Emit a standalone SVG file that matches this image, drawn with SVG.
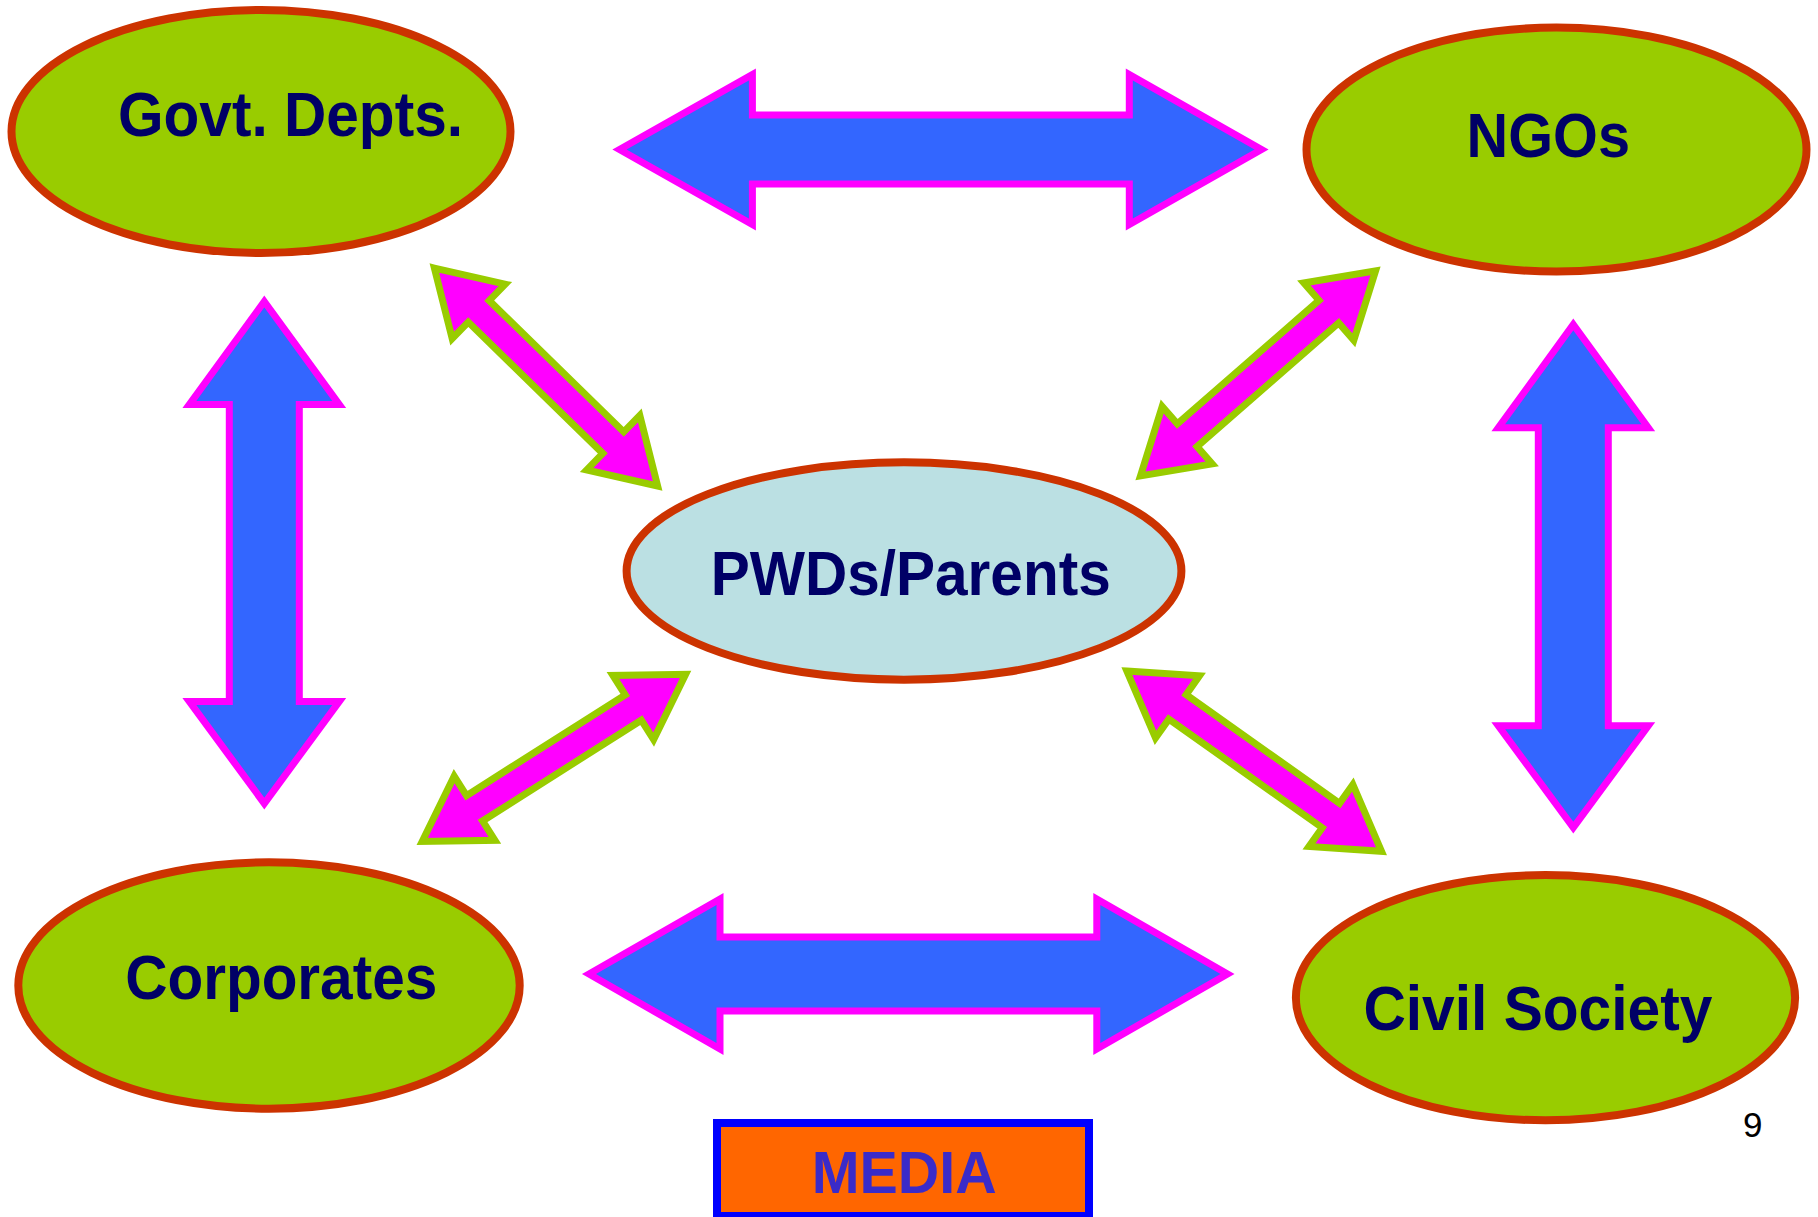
<svg xmlns="http://www.w3.org/2000/svg" xmlns:xlink="http://www.w3.org/1999/xlink" width="1818" height="1217" viewBox="0 0 1818 1217">
<style>
.node{fill:#99CC00;stroke:#CC3300;stroke-width:8}
.center{fill:#BBE0E3;stroke:#CC3300;stroke-width:8}
.lbl{font-family:"Liberation Sans",Arial,sans-serif;font-weight:bold;font-size:63px;fill:#000066}
.big{fill:#3366FF;stroke:#FF00FF;stroke-width:7;stroke-linejoin:miter;stroke-miterlimit:10}
.diag{fill:#FF00FF;stroke:#99CC00;stroke-width:7;stroke-linejoin:miter;stroke-miterlimit:10}
</style>
<defs>
<polygon id="diagArrow" points="-156,0 -94,-38 -94,-15 94,-15 94,-38 156,0 94,38 94,15 -94,15 -94,38"/>
</defs>
<rect width="1818" height="1217" fill="#FFFFFF"/>
<g id="connectors">
<polygon class="big" points="619.5,149.5 752.4,74.5 752.4,115 1129.3,115 1129.3,74.5 1261.5,149.5 1129.3,224.5 1129.3,184 752.4,184 752.4,224.5"/>
<polygon class="big" points="589,974 720,899 720,937 1096.8,937 1096.8,899 1227.5,974 1096.8,1049 1096.8,1011 720,1011 720,1049"/>
<polygon class="big" points="264.3,301.5 339.3,404.6 299.3,404.6 299.3,701.4 339.3,701.4 264.3,803.5 189.3,701.4 229.3,701.4 229.3,404.6 189.3,404.6"/>
<polygon class="big" points="1573.3,324.5 1648.3,427.8 1608.3,427.8 1608.3,725.8 1648.3,725.8 1573.3,827.5 1498.3,725.8 1538.3,725.8 1538.3,427.8 1498.3,427.8"/>
<use xlink:href="#diagArrow" class="diag" transform="translate(546,377) rotate(44.3)"/>
<use xlink:href="#diagArrow" class="diag" transform="translate(1258,373.4) rotate(-41.1)"/>
<use xlink:href="#diagArrow" class="diag" transform="translate(553.9,757.9) rotate(-32.4)"/>
<use xlink:href="#diagArrow" class="diag" transform="translate(1254.2,761.2) rotate(35.3)"/>
</g>
<g id="govt">
<ellipse class="node" cx="261" cy="131.5" rx="249.5" ry="121.5"/>
<text class="lbl" x="118" y="135.6" textLength="345" lengthAdjust="spacingAndGlyphs">Govt. Depts.</text>
</g>
<g id="ngos">
<ellipse class="node" cx="1556.5" cy="149.6" rx="250" ry="122"/>
<text class="lbl" x="1466.6" y="156.5" textLength="163.4" lengthAdjust="spacingAndGlyphs">NGOs</text>
</g>
<g id="pwds">
<ellipse class="center" cx="904" cy="571" rx="277.4" ry="108.7"/>
<text class="lbl" x="710.7" y="594.8" textLength="400" lengthAdjust="spacingAndGlyphs">PWDs/Parents</text>
</g>
<g id="corporates">
<ellipse class="node" cx="269" cy="985.5" rx="250.7" ry="123.2"/>
<text class="lbl" x="125.2" y="999.4" textLength="312" lengthAdjust="spacingAndGlyphs">Corporates</text>
</g>
<g id="civil">
<ellipse class="node" cx="1545.5" cy="997.7" rx="249.6" ry="122.6"/>
<text class="lbl" x="1363.4" y="1029.5" textLength="349" lengthAdjust="spacingAndGlyphs">Civil Society</text>
</g>
<g id="media">
<rect x="717" y="1123" width="372" height="93" fill="#FF6600" stroke="#0000FF" stroke-width="8"/>
<text x="811.7" y="1193" font-family="'Liberation Sans',Arial,sans-serif" font-weight="bold" font-size="59" fill="#3A2BC8" textLength="185" lengthAdjust="spacingAndGlyphs">MEDIA</text>
</g>
<text x="1743" y="1137" font-family="'Liberation Sans',Arial,sans-serif" font-size="35" fill="#000000">9</text>
</svg>
